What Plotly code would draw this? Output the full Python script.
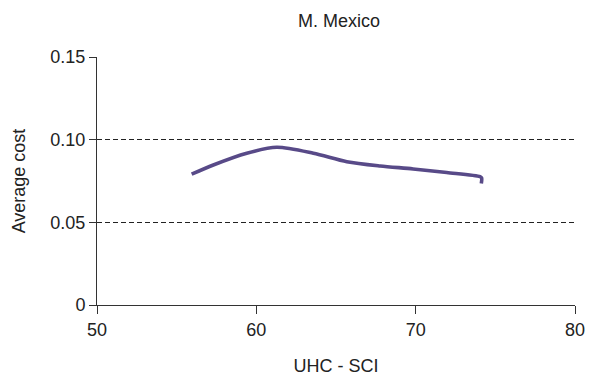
import plotly.graph_objects as go

uhc_sci = [55.94, 57.30, 59.40, 61.28, 63.58, 65.68, 67.77, 69.84, 71.95, 74.04, 74.14, 74.12]
avg_cost = [0.0791, 0.0847, 0.0918, 0.0954, 0.0918, 0.0867, 0.0841, 0.0823, 0.0801, 0.0776, 0.0768, 0.0735]

y_tickvals = [0, 0.05, 0.10, 0.15]
y_ticktext = ["0", "0.05", "0.10", "0.15"]
x_tickvals = [50, 60, 70, 80]

fam = "Liberation Sans, Arial, sans-serif"
col = "#222222"

fig = go.Figure()
fig.add_trace(go.Scatter(
    x=uhc_sci, y=avg_cost, mode="lines",
    line=dict(color="#584a88", width=3.6, shape="spline", smoothing=0.8),
    showlegend=False,
))

fig.update_layout(
    width=592, height=377,
    margin=dict(l=97, r=17, t=57, b=72),
    paper_bgcolor="white", plot_bgcolor="white",
    font=dict(family=fam, size=18, color=col),
    title=dict(text="M. Mexico", x=339 / 592, xanchor="center", xref="container",
               y=1 - 21 / 377, yanchor="middle", yref="container",
               font=dict(family=fam, size=18, color=col)),
)
fig.update_xaxes(
    range=[50, 80], tickvals=x_tickvals, showgrid=False, zeroline=False,
    showline=True, linecolor="#333333", linewidth=1,
    ticks="outside", ticklen=8, tickcolor="#333333",
    tickfont=dict(family=fam, size=18, color=col), automargin=False,
    title=dict(text="UHC - SCI", standoff=20, font=dict(family=fam, size=18, color=col)),
)
fig.update_yaxes(
    range=[0, 0.15], tickvals=y_tickvals, ticktext=y_ticktext,
    showgrid=True, gridcolor="#222222", griddash="5px,3px", gridwidth=1,
    zeroline=False, showline=True, linecolor="#333333", linewidth=1,
    ticks="outside", ticklen=7, tickcolor="#333333",
    tickfont=dict(family=fam, size=18, color=col), automargin=False,
    title=dict(text="Average cost", standoff=20, font=dict(family=fam, size=18, color=col)),
)
fig.write_html("out.html")
